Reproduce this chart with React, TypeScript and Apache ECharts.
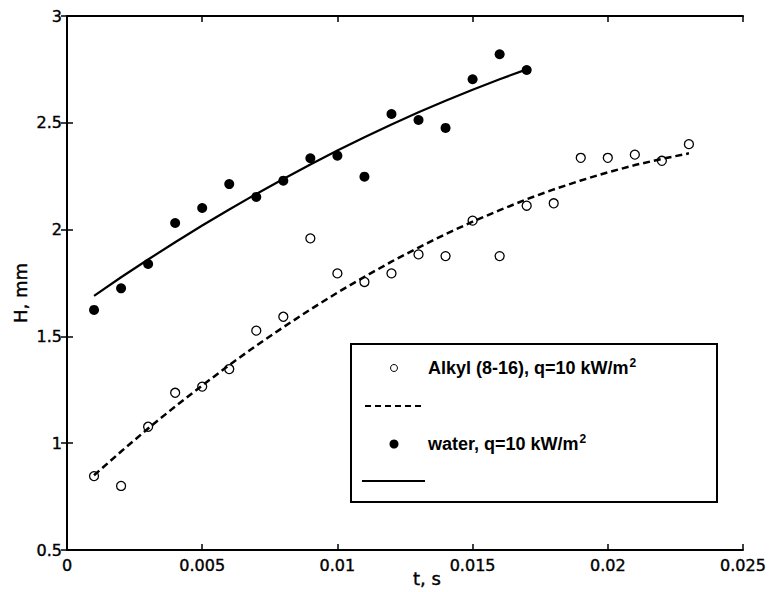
import React, { useEffect, useRef } from "react";
import * as echarts from "echarts";

const tAlkyl = [0.001, 0.002, 0.003, 0.004, 0.005, 0.006, 0.007, 0.008, 0.009, 0.010, 0.011, 0.012, 0.013, 0.014, 0.015, 0.016, 0.017, 0.018, 0.019, 0.020, 0.021, 0.022, 0.023];
const hAlkyl = [0.846, 0.800, 1.077, 1.236, 1.265, 1.347, 1.527, 1.592, 1.959, 1.795, 1.755, 1.795, 1.884, 1.876, 2.042, 1.876, 2.112, 2.123, 2.336, 2.336, 2.351, 2.322, 2.400];

const tWater = [0.001, 0.002, 0.003, 0.004, 0.005, 0.006, 0.007, 0.008, 0.009, 0.010, 0.011, 0.012, 0.013, 0.014, 0.015, 0.016, 0.017];
const hWater = [1.624, 1.725, 1.839, 2.031, 2.101, 2.213, 2.153, 2.229, 2.334, 2.346, 2.248, 2.541, 2.513, 2.476, 2.704, 2.821, 2.747];

// fitted curves
const fitAlkylT = [0.001, 0.002, 0.003, 0.004, 0.005, 0.006, 0.007, 0.008, 0.009, 0.010, 0.011, 0.012, 0.013, 0.014, 0.015, 0.016, 0.017, 0.018, 0.019, 0.020, 0.021, 0.022, 0.023];
const fitAlkylH = [0.850, 0.961, 1.069, 1.172, 1.270, 1.366, 1.457, 1.543, 1.626, 1.705, 1.779, 1.850, 1.916, 1.979, 2.037, 2.091, 2.142, 2.188, 2.230, 2.268, 2.302, 2.331, 2.357];

const fitWaterT = [0.001, 0.002, 0.003, 0.004, 0.005, 0.006, 0.007, 0.008, 0.009, 0.010, 0.011, 0.012, 0.013, 0.014, 0.015, 0.016, 0.017];
const fitWaterH = [1.690, 1.777, 1.860, 1.941, 2.019, 2.094, 2.167, 2.237, 2.305, 2.370, 2.432, 2.492, 2.549, 2.603, 2.655, 2.704, 2.750];

const xTicks = { min: 0, max: 0.025, interval: 0.005 };
const yTicks = { min: 0.5, max: 3, interval: 0.5 };

const legendAlkyl = "Alkyl (8-16), q=10 kW/m";
const legendWater = "water, q=10 kW/m";
const xName = "t, s";
const yName = "H, mm";

const TICK_FONT = "'DejaVu Sans', sans-serif";
const LEG_FONT = "'Liberation Sans', Arial, sans-serif";

const zip = (a: number[], b: number[]) => a.map((v, i) => [v, b[i]]);

export default function App() {
  const ref = useRef<HTMLDivElement>(null);
  useEffect(() => {
    if (!ref.current) return;
    const chart = echarts.init(ref.current, null, { renderer: "svg" });
    const axisLine = { show: true, lineStyle: { color: "#000", width: 2 } };
    const axisTick = { show: true, inside: true, length: 6, lineStyle: { color: "#000", width: 1.5 } };
    const label = { color: "#000", fontSize: 16, fontFamily: TICK_FONT, textBorderColor: "#000", textBorderWidth: 0.4 };
    const fmt = (v: number) => String(parseFloat(v.toFixed(4)));
    const rich = {
      b: { fontSize: 18, fontFamily: LEG_FONT, color: "#000", fontWeight: "bold" as const },
      s: { fontSize: 12, fontFamily: LEG_FONT, color: "#000", fontWeight: "bold" as const, padding: [0, 0, 10, 1] },
    };
    chart.setOption({
      animation: false,
      backgroundColor: "#fff",
      grid: { left: 67, right: 27, top: 16, bottom: 42 },
      xAxis: [
        {
          type: "value", ...xTicks, position: "bottom",
          axisLine, axisTick, splitLine: { show: false },
          axisLabel: { ...label, margin: 7, formatter: fmt },
        },
        {
          type: "value", ...xTicks, position: "top",
          axisLine, axisTick, splitLine: { show: false },
          axisLabel: { show: false },
        },
      ],
      yAxis: [
        {
          type: "value", ...yTicks, position: "left",
          axisLine, axisTick, splitLine: { show: false },
          axisLabel: { ...label, margin: 5, formatter: fmt },
        },
        {
          type: "value", ...yTicks, position: "right",
          axisLine, axisTick, splitLine: { show: false },
          axisLabel: { show: false },
        },
      ],
      series: [
        {
          type: "line", data: zip(fitAlkylT, fitAlkylH), showSymbol: false, silent: true,
          lineStyle: { color: "#000", width: 2.5, type: [7, 4] },
        },
        {
          type: "line", data: zip(fitWaterT, fitWaterH), showSymbol: false, silent: true,
          lineStyle: { color: "#000", width: 2.2, type: "solid" },
        },
        {
          type: "scatter", data: zip(tAlkyl, hAlkyl), symbol: "circle", symbolSize: 9,
          itemStyle: { color: "#fff", borderColor: "#000", borderWidth: 1.3, opacity: 1 },
        },
        {
          type: "scatter", data: zip(tWater, hWater), symbol: "circle", symbolSize: 10,
          itemStyle: { color: "#000", opacity: 1 },
        },
      ],
      graphic: [
        {
          type: "rect", shape: { x: 351, y: 344, width: 366, height: 158 },
          style: { fill: "#fff", stroke: "#000", lineWidth: 2 }, z: 10,
        },
        {
          type: "circle", shape: { cx: 394, cy: 368, r: 3.5 },
          style: { fill: "#fff", stroke: "#000", lineWidth: 1 }, z: 11,
        },
        {
          type: "text", x: 428, y: 368, z: 11,
          style: { text: `{b|${legendAlkyl}}{s|2}`, rich, verticalAlign: "middle", align: "left" },
        },
        {
          type: "line", shape: { x1: 365, y1: 406, x2: 423, y2: 406 },
          style: { stroke: "#000", lineWidth: 2, lineDash: [6, 4] }, z: 11,
        },
        {
          type: "circle", shape: { cx: 394, cy: 444, r: 4.5 },
          style: { fill: "#000" }, z: 11,
        },
        {
          type: "text", x: 428, y: 444, z: 11,
          style: { text: `{b|${legendWater}}{s|2}`, rich, verticalAlign: "middle", align: "left" },
        },
        {
          type: "line", shape: { x1: 362, y1: 481, x2: 425, y2: 481 },
          style: { stroke: "#000", lineWidth: 2 }, z: 11,
        },
        {
          type: "text", x: 427, y: 578,
          style: { text: xName, fontSize: 18, fontFamily: TICK_FONT, fill: "#000", stroke: "#000", lineWidth: 0.4, align: "center", verticalAlign: "middle" },
        },
        {
          type: "text", x: 20, y: 293, rotation: Math.PI / 2,
          style: { text: yName, fontSize: 18, fontFamily: TICK_FONT, fill: "#000", stroke: "#000", lineWidth: 0.4, align: "center", verticalAlign: "middle" },
        },
      ],
    });
    return () => chart.dispose();
  }, []);
  return (
    <div
      ref={ref}
      style={{ position: "fixed", left: 0, top: 0, width: 770, height: 592, background: "#fff" }}
    />
  );
}
